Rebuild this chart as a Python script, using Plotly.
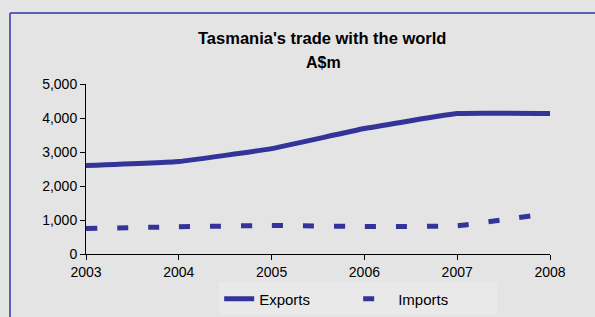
import plotly.graph_objects as go

years = [2003, 2004, 2005, 2006, 2007, 2008]
exports = [2600, 2720, 3100, 3690, 4130, 4130]
imports = [750, 800, 840, 810, 830, 1200]
y_ticks = [0, 1000, 2000, 3000, 4000, 5000]
y_labels = ["0", "1,000", "2,000", "3,000", "4,000", "5,000"]

blue = "#333399"
font = "Liberation Sans, Arial, sans-serif"

fig = go.Figure()
fig.add_trace(go.Scatter(x=years, y=exports, name="Exports", mode="lines",
                         line=dict(color=blue, width=5, shape="spline", smoothing=0.3)))
fig.add_trace(go.Scatter(x=years, y=imports, name="Imports", mode="lines",
                         line=dict(color=blue, width=5, dash="11px,20px", shape="spline", smoothing=0.3)))

fig.update_layout(
    width=595, height=317,
    margin=dict(l=86, r=45, t=84, b=63, autoexpand=False),
    paper_bgcolor="#e4e4e4", plot_bgcolor="rgba(0,0,0,0)",
    font=dict(family=font, size=14, color="#000000"),
    showlegend=True,
    legend=dict(orientation="h", x=0.287, xanchor="left",
                yref="container", y=0.057, yanchor="middle",
                bgcolor="rgba(255,255,255,0.2)", font=dict(size=15),
                entrywidth=94, tracegroupgap=0),
    xaxis=dict(range=[2003, 2008], tickvals=years, ticks="outside", ticklen=5,
               tickcolor="#000", showline=True, linecolor="#000", linewidth=1,
               showgrid=False, zeroline=False, tickfont=dict(size=14)),
    yaxis=dict(range=[0, 5000], tickvals=y_ticks, ticktext=y_labels, ticks="outside",
               ticklen=5, tickcolor="#000", showline=True, linecolor="#000", linewidth=1,
               showgrid=False, zeroline=False, tickfont=dict(size=14)),
    annotations=[
        dict(text="<b>Tasmania's trade with the world</b>", xref="paper", yref="paper",
             x=0.5, y=1.0, yshift=46, xshift=4, showarrow=False, font=dict(size=16.5),
             xanchor="center", yanchor="middle"),
        dict(text="<b>A$m</b>", xref="paper", yref="paper",
             x=0.5, y=1.0, yshift=22, xshift=5, showarrow=False, font=dict(size=16),
             xanchor="center", yanchor="middle"),
    ],
    shapes=[
        dict(type="line", xref="paper", yref="paper", x0=-0.1638, x1=1.2, y0=1.4176, y1=1.4176,
             line=dict(color="#3333aa", width=1.5)),
        dict(type="line", xref="paper", yref="paper", x0=-0.1638, x1=-0.1638, y0=1.4176, y1=-0.5,
             line=dict(color="#3333aa", width=1.5)),
    ],
)

fig.write_html("out.html", config={"displayModeBar": False},
               post_script="document.body.style.margin='0';document.body.style.padding='0';")
